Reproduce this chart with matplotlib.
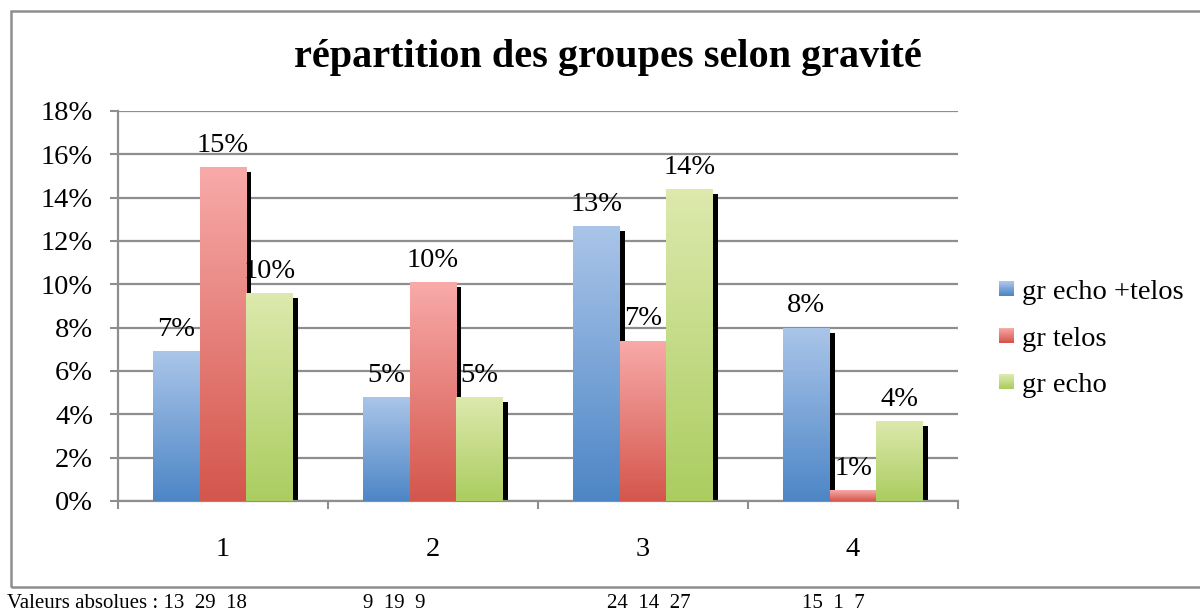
import matplotlib
matplotlib.use("Agg")
import matplotlib.pyplot as plt
import numpy as np
from matplotlib.patches import Rectangle
from matplotlib.legend_handler import HandlerBase
from matplotlib.colors import to_rgb

# ---- data ----
categories = ["1", "2", "3", "4"]
series_names = ["gr echo +telos", "gr telos", "gr echo"]
echo_telos = [6.9, 4.8, 12.7, 8.0]
telos = [15.4, 10.1, 7.4, 0.5]
echo = [9.6, 4.8, 14.4, 3.7]
value_labels_echo_telos = ["7%", "5%", "13%", "8%"]
value_labels_telos = ["15%", "10%", "7%", "1%"]
value_labels_echo = ["10%", "5%", "14%", "4%"]
y_ticks = [0, 2, 4, 6, 8, 10, 12, 14, 16, 18]
y_tick_labels = ["0%", "2%", "4%", "6%", "8%", "10%", "12%", "14%", "16%", "18%"]
title = "répartition des groupes selon gravité"
abs_texts = ["Valeurs absolues : 13  29  18", "9  19  9", "24  14  27", "15  1  7"]
abs_text_x_px = [7, 363, 607, 802]

# ---- style ----
top_colors = ["#aac5e9", "#f8aaa9", "#dde9ad"]
bottom_colors = ["#4d86c6", "#d4564c", "#abcd60"]
grid_col = "#8e8e8e"
FONT = "Liberation Serif"
plt.rcParams["font.family"] = [FONT, "DejaVu Serif"]
FS = 20.5

W, H = 1200, 613
fig = plt.figure(figsize=(W / 100, H / 100), dpi=100)
ax = fig.add_axes([118 / W, (H - 501) / H, 840 / W, 390 / H])

series = [echo_telos, telos, echo]
labels = [value_labels_echo_telos, value_labels_telos, value_labels_echo]
x = np.arange(1, len(categories) + 1)
bw = 0.2225
shadow_dx = 5 / 210.0
shadow_dy = 5 / (390 / 18.0)


def gradient(top, bot, n=128):
    t = np.array(to_rgb(top))
    b = np.array(to_rgb(bot))
    f = np.linspace(0, 1, n)[:, None]
    return (t * (1 - f) + b * f)[:, None, :]


for i, (vals, labs) in enumerate(zip(series, labels)):
    pos = x + (i - 1) * bw
    # shadows
    ax.bar(pos + shadow_dx, [max(v - shadow_dy, 0) for v in vals], width=bw,
           color="black", zorder=2, linewidth=0)
    bars = ax.bar(pos, vals, width=bw, color="none", zorder=3, linewidth=0,
                  label=series_names[i])
    grad = gradient(top_colors[i], bottom_colors[i])
    for p, lab in zip(bars.patches, labs):
        x0 = p.get_x()
        x1 = x0 + p.get_width()
        h = p.get_height()
        im = ax.imshow(grad, extent=[x0, x1, 0, h], aspect="auto", zorder=3,
                       interpolation="bilinear")
        im.set_clip_path(p)
        ax.annotate(lab, (x0 + p.get_width() / 2, h), xytext=(0, 11),
                    textcoords="offset points", ha="center", va="baseline",
                    fontsize=FS, zorder=5)

ax.set_xlim(0.5, len(categories) + 0.5)
ax.set_ylim(0, 18)
ax.set_yticks(y_ticks)
ax.set_yticklabels(y_tick_labels)
ax.set_xticks(x)
ax.set_xticklabels(categories)
ax.set_xticks(np.arange(0.5, len(categories) + 1), minor=True)
ax.tick_params(axis="x", which="major", length=0, pad=26, labelsize=FS)
ax.tick_params(axis="x", which="minor", length=6, width=1.5, color=grid_col,
               direction="out")
ax.tick_params(axis="y", length=6, width=1.5, color=grid_col, pad=12,
               labelsize=FS)
ax.yaxis.grid(True, color=grid_col, linewidth=1.6, zorder=1)
ax.set_axisbelow(True)
for s in ["top", "right"]:
    ax.spines[s].set_visible(False)
for s in ["left", "bottom"]:
    ax.spines[s].set_color(grid_col)
    ax.spines[s].set_linewidth(1.6)

# title
fig.text(608 / W, 1 - 58 / H, title, ha="center", va="center", fontsize=29,
         fontweight="bold")


# legend with gradient squares
class GradHandler(HandlerBase):
    def __init__(self, top, bot):
        super().__init__()
        self.top = np.array(to_rgb(top))
        self.bot = np.array(to_rgb(bot))

    def create_artists(self, legend, orig_handle, xdescent, ydescent, width,
                       height, fontsize, trans):
        side = min(width, height)
        x0 = -xdescent
        y0 = -ydescent + (height - side) / 2
        n = 16
        arts = []
        for k in range(n):
            f = k / (n - 1)
            c = self.top * (1 - f) + self.bot * f
            r = Rectangle((x0, y0 + side - (k + 1) * side / n), side,
                          side / n + 0.3, facecolor=c, edgecolor="none",
                          transform=trans)
            arts.append(r)
        return arts


handles = [Rectangle((0, 0), 1, 1) for _ in series_names]
hmap = {h: GradHandler(t, b) for h, t, b in zip(handles, top_colors, bottom_colors)}
fig.legend(handles, series_names, handler_map=hmap, loc="center left",
           bbox_to_anchor=(999 / W, 1 - 339 / H), frameon=False, fontsize=FS,
           handlelength=0.52, handleheight=0.52, handletextpad=0.3,
           labelspacing=0.76, borderpad=0, borderaxespad=0)

# outer border
fig.patches.append(Rectangle((11 / W, 1 - 587 / H), (W + 20) / W, (587 - 11) / H,
                             transform=fig.transFigure, fill=False,
                             edgecolor=grid_col, linewidth=1.8))

# bottom text
for t, xp in zip(abs_texts, abs_text_x_px):
    fig.text(xp / W, 1 - 608 / H, t, ha="left", va="baseline", fontsize=15)

fig.savefig("out.png", dpi=100)
